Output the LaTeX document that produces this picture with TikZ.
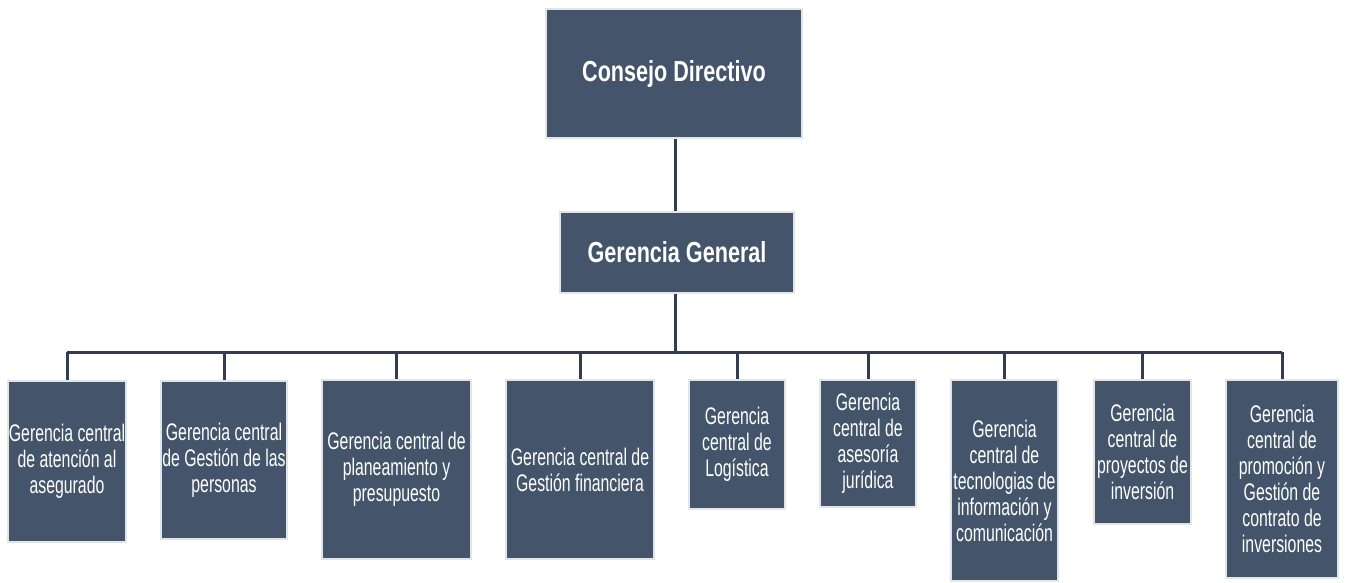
\documentclass[tikz,border=0pt]{standalone}
\usepackage{fontspec}
\newfontfamily\unitfont{Liberation Sans}[FakeStretch=0.66]
\newfontfamily\headfont{Liberation Sans}[FakeStretch=0.745]
\definecolor{boxfill}{HTML}{44546A}
\definecolor{boxedge}{HTML}{E2E4E8}
\definecolor{linkcol}{HTML}{323E50}
\tikzset{
  unit/.style={draw=boxedge, line width=1.5pt, fill=boxfill, text=white,
    inner sep=0pt, align=center, font=\unitfont\fontsize{24}{26}\selectfont},
  head/.style={unit, font=\headfont\bfseries\fontsize{29}{31}\selectfont},
  link/.style={draw=linkcol, line width=3pt}
}
\begin{document}
\begin{tikzpicture}[x=1pt,y=-1pt]
\useasboundingbox (0,0) rectangle (1346,582);
% top levels
\node[head, minimum width=256, minimum height=129] (cd) at (674,73.5) {Consejo Directivo};
\node[head, minimum width=234, minimum height=81] (gg) at (677,252.5) {Gerencia General};
% central management units
\node[unit, minimum width=118, minimum height=161] (c1) at (67,461.5) {Gerencia central\\de atención al\\asegurado};
\node[unit, minimum width=126, minimum height=158] (c2) at (224,460) {Gerencia central\\de Gestión de las\\personas};
\node[unit, minimum width=149, minimum height=179] (c3) at (396.5,469.5) {Gerencia central de\\planeamiento y\\presupuesto};
\node[unit, minimum width=148, minimum height=179] (c4) at (580,469.5) {Gerencia central de\\Gestión financiera};
\node[unit, minimum width=96, minimum height=129] (c5) at (737,444.5) {Gerencia\\central de\\Logística};
\node[unit, minimum width=96, minimum height=127] (c6) at (868,443.5) {Gerencia\\central de\\asesoría\\jurídica};
\node[unit, minimum width=107, minimum height=201] (c7) at (1004.5,480.5) {Gerencia\\central de\\tecnologias de\\información y\\comunicación};
\node[unit, minimum width=97, minimum height=144] (c8) at (1142.5,452) {Gerencia\\central de\\proyectos de\\inversión};
\node[unit, minimum width=112, minimum height=198] (c9) at (1282,479) {Gerencia\\central de\\promoción y\\Gestión de\\contrato de\\inversiones};
% connectors
\coordinate (bus) at (675,352);
\draw[link] (675,0 |- cd.south) -- (675,0 |- gg.north);
\draw[link] (675,0 |- gg.south) -- (bus);
\draw[link] (c1.north |- bus) -- (c9.north |- bus);
\foreach \n in {c1,c2,c3,c4,c5,c6,c7,c8,c9}
  \draw[link] (\n.north |- bus) -- (\n.north);
\end{tikzpicture}
\end{document}
